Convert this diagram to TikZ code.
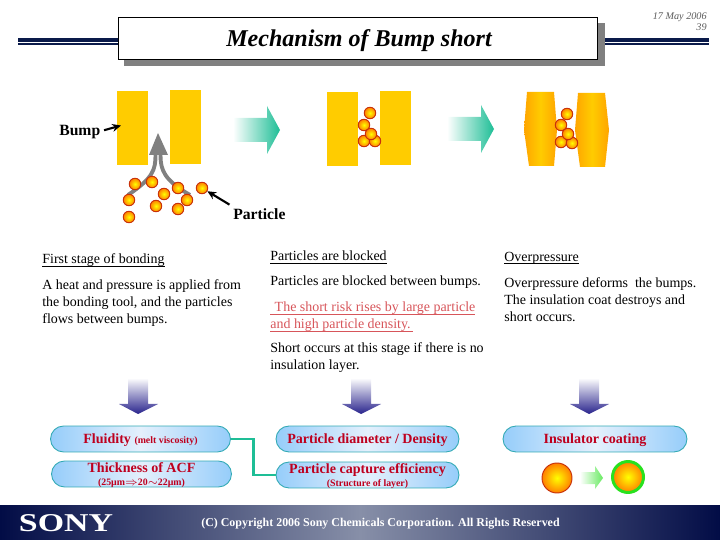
\documentclass[tikz,border=0pt]{standalone}
\usepackage{fontspec}
\setmainfont{Liberation Serif}
\usetikzlibrary{arrows.meta}
\definecolor{navyline}{RGB}{10,26,74}
\definecolor{bumpyellow}{RGB}{255,204,0}
\definecolor{bumpdark}{RGB}{255,165,0}
\definecolor{tealgreen}{RGB}{30,190,150}
\definecolor{pillblue}{RGB}{150,205,250}
\definecolor{pillpale}{RGB}{228,240,252}
\definecolor{pilledge}{RGB}{50,170,180}
\definecolor{pillred}{RGB}{190,0,30}
\definecolor{riskred}{RGB}{215,85,90}
\definecolor{ringgreen}{RGB}{40,225,30}
\definecolor{downblue}{RGB}{40,35,140}
\definecolor{footgray}{RGB}{135,143,168}
\definecolor{footnavy}{RGB}{2,12,70}
\tikzset{
    particle/.style={circle,draw={rgb,255:red,200;green,50;blue,10},line width=0.55pt,minimum size=0.23cm,inner sep=0pt,
        shading=radial,inner color=yellow,outer color=orange},
    bump/.style={fill=bumpyellow},
    bodytext/.style={anchor=west,inner sep=0pt,font=\fontsize{7.95}{9.6}\selectfont,align=left},
    pill/.style={rectangle,rounded corners=7.4pt,draw=pilledge,line width=0.5pt,minimum width=3.6cm,minimum height=0.52cm,
        inner sep=0pt,left color=pillblue,right color=pillblue,middle color=pillpale,text=pillred,
        font=\fontsize{8}{8.4}\selectfont\bfseries,align=center,text height=5.5pt,text depth=0pt},
    pilltext/.style={inner sep=0pt,text=pillred,font=\fontsize{8}{8}\selectfont\bfseries,align=center},
    pointer/.style={-{Stealth[length=5pt,width=4.5pt]},line width=1.2pt},
    nextarrow/.style={left color=white,right color=tealgreen},
    downarrow/.style={top color=white,bottom color=downblue}
}
\newcommand{\smalltxt}[1]{{\fontsize{5.6}{6}\selectfont #1}}
\newcommand{\lowline}[1]{\underline{\raisebox{0pt}[\height][0pt]{#1}}}
\begin{document}
\begin{tikzpicture}[x=0.02cm,y=-0.02cm]
    \useasboundingbox (0,0) rectangle (720,540);
    % Header lines
    \fill[navyline] (18,38) rectangle (118,42.5);
    \fill[navyline] (18,43.5) rectangle (118,45);
    \fill[navyline] (605,38) rectangle (709,42.5);
    \fill[navyline] (605,43.5) rectangle (709,45);
    % Title box
    \fill[gray] (124,23) rectangle (605,66);
    \node[draw,fill=white,line width=0.6pt,minimum width=9.58cm,minimum height=0.84cm,inner sep=0pt] (titlebox) at (358,38.5) {};
    \node[inner sep=0pt,font=\fontsize{13.7}{14}\selectfont\bfseries\itshape] (title) at (359,40.5) {Mechanism of Bump short};
    \node[anchor=north east,inner sep=0pt,align=right,text={rgb,255:red,90;green,90;blue,90},
        font=\fontsize{5.8}{6.4}\selectfont\itshape] (date) at (707,12.5) {17 May 2006\\39};
    % Bumps, first stage
    \fill[bump] (117,91) rectangle (148,165);
    \fill[bump] (170,90) rectangle (201,164);
    \coordinate (bumptip) at (121,125.5);
    % Flow into the gap
    \draw[line width=2.2pt,gray] (155.5,155) .. controls (155.5,170) and (153,178) .. (128,195);
    \draw[line width=2.2pt,gray] (160.5,155) .. controls (160.5,170) and (164,180) .. (190,195);
    \fill[gray] (158,133) -- (168,155) -- (149,155) -- cycle;
    % Bumps, second stage
    \fill[bump] (327,92) rectangle (358,166);
    \fill[bump] (380,91) rectangle (411,165);
    % Bumps, third stage
    \shade[left color=bumpdark,right color=bumpdark,middle color=bumpyellow]
        (527,92) -- (554,92) -- (557,130) -- (554,166) -- (529,166) -- (524,130) -- cycle;
    \shade[left color=bumpdark,right color=bumpdark,middle color=bumpyellow]
        (578,93) -- (605,93) -- (609,130) -- (605,167) -- (580,167) -- (575,130) -- cycle;
    % Particles
    \foreach \px/\py/\pname in {135/184/a1,152/182/a2,164/194/a3,178/188/a4,187/200/a5,129/200/a6,156/206/a7,178/209/a8,129/217/a9,202/188/a10,
        370/113/b1,364/125/b2,364/141/b4,375/141/b5,371/134/b3,
        567/114/c1,561/125/c2,561/142/c4,572/143/c5,568/134/c3}
        \node[particle] (\pname) at (\px,\py) {};
    % Labels of the first stage
    \node[inner sep=0pt,font=\fontsize{8.9}{10}\selectfont\bfseries,anchor=west] (bumplabel) at (59,132) {Bump};
    \node[inner sep=0pt,font=\fontsize{8.9}{10}\selectfont\bfseries,anchor=west] (particlelabel) at (233,214) {Particle};
    \draw[pointer] ([xshift=2pt,yshift=1pt]bumplabel.east) -- (bumptip);
    \draw[pointer] ([xshift=-2pt,yshift=2pt]particlelabel.north west) -- (a10);
    % Arrows between stages
    \shade[nextarrow] (233,118) -- (267,118) -- (267,106) -- (280,130) -- (267,154) -- (267,142) -- (233,142) -- cycle;
    \shade[nextarrow] (447,117) -- (481,117) -- (481,105) -- (494,129) -- (481,153) -- (481,141) -- (447,141) -- cycle;
    % Text columns
    \node[bodytext] (headone) at (42,260.5) {\lowline{First stage of bonding}};
    \node[bodytext] (textone) at (42,303) {A heat and pressure is applied from\\the bonding tool, and the particles\\flows between bumps.};
    \node[bodytext] (headtwo) at (270,257.5) {\lowline{Particles are blocked}};
    \node[bodytext] (texttwo) at (270,282) {Particles are blocked between bumps.};
    \node[bodytext,text=riskred] (risktwo) at (270,317) {\lowline{\hspace{2.5pt}The short risk rises by large particle}\\\lowline{and high particle density.\hspace{1.5pt}}};
    \node[bodytext] (shorttwo) at (270,357.5) {Short occurs at this stage if there is no\\insulation layer.};
    \node[bodytext] (headthree) at (504,258.5) {\lowline{Overpressure}};
    \node[bodytext] (textthree) at (504,300) {Overpressure deforms\ \ the bumps.\\The insulation coat destroys and\\short occurs.};
    % Arrows down
    \shade[downarrow] (128,378) -- (148,378) -- (148,404) -- (158,404) -- (138,414) -- (119,404) -- (128,404) -- cycle;
    \shade[downarrow] (351,378) -- (371,378) -- (371,404) -- (381,404) -- (361,414) -- (342,404) -- (351,404) -- cycle;
    \shade[downarrow] (579,378) -- (599,378) -- (599,404) -- (609,404) -- (589,414) -- (570,404) -- (579,404) -- cycle;
    % Result boxes
    \node[pill] (fluidity) at (140.5,439) {Fluidity \smalltxt{(melt viscosity)}};
    \node[pill] (thickness) at (141.5,474) {};
    \node[pilltext] (thicknesstext) at (141.5,475) {Thickness of ACF\\[-1pt]\smalltxt{(25µm$\Rightarrow$20$\sim$22µm)}};
    \node[pill,minimum width=3.66cm] (diameter) at (367.5,439) {Particle diameter / Density};
    \node[pill,minimum width=3.66cm] (capture) at (367.5,475) {};
    \node[pilltext] (capturetext) at (367.5,476) {Particle capture efficiency\\[-1pt]\smalltxt{(Structure of layer)}};
    \node[pill,minimum width=3.68cm] (insulator) at (595,439) {Insulator coating};
    \draw[tealgreen,line width=1.7pt] (fluidity.east) -- ++(23,0) |- (capture.west);
    % Coating of a particle
    \node[particle,minimum size=0.6cm] (bareball) at (557,478) {};
    \node[particle,minimum size=0.62cm,draw=ringgreen,line width=1.7pt] (coatedball) at (628,477) {};
    \shade[left color=white,right color=ringgreen!70!white] (580,472) -- (595,472) -- (595,466) -- (603,478) -- (595,489) -- (595,484) -- (580,484) -- cycle;
    % Footer
    \shade[left color=footnavy,right color=footnavy,middle color=footgray] (0,505) rectangle (720,540);
    \node[text=white,inner sep=0pt,xscale=1.32,font=\fontsize{14.6}{15}\selectfont\bfseries] (sony) at (66,523.5) {SONY};
    \node[text=white,inner sep=0pt,font=\fontsize{6.8}{8}\selectfont\bfseries] (copyright) at (380.5,523.5) {(C) Copyright 2006 Sony Chemicals Corporation. All Rights Reserved};
\end{tikzpicture}
\end{document}
